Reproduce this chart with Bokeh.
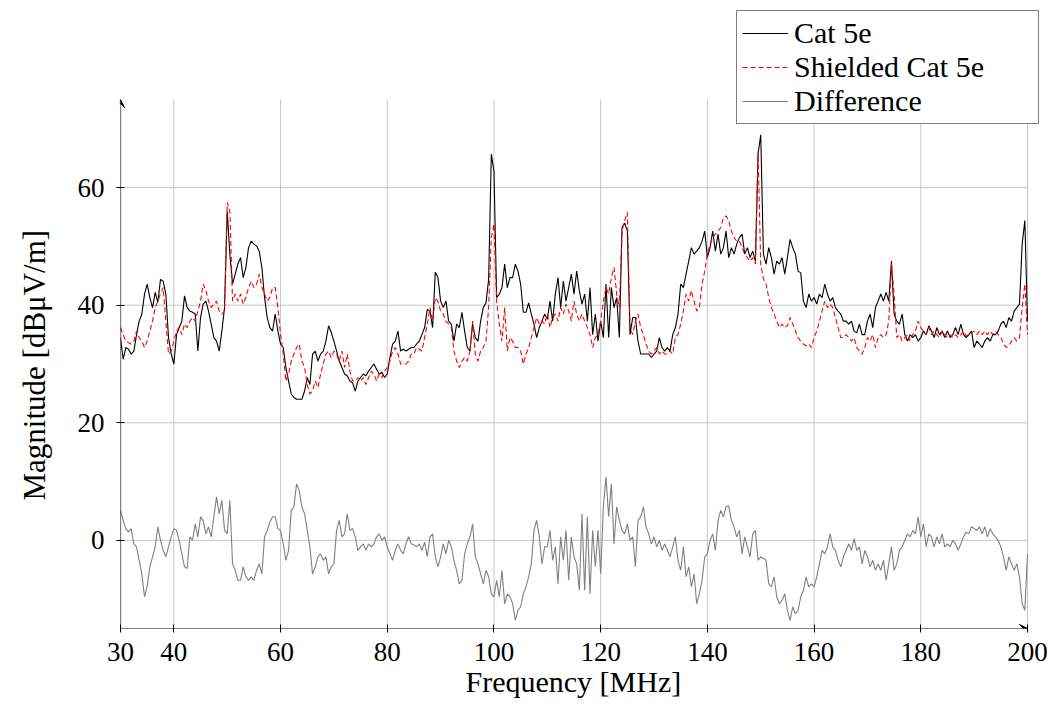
import numpy as np
from bokeh.plotting import figure
from bokeh.models import (Range1d, FixedTicker, Legend, LegendItem, Arrow,
                          VeeHead, ColumnDataSource, Title)
from bokeh.embed import file_html
from bokeh.resources import INLINE

# Measured field strength, 30-200 MHz in 0.5 MHz steps
freq = np.arange(30.0, 200.001, 0.5)

cat5e = [
    34.5, 30.8, 32.8, 32.5, 31.7, 32.2, 35.0, 37.3, 38.5, 41.9, 43.6, 41.3, 39.6, 42.2, 40.5, 44.4, 44.1, 41.9, 34.5, 31.7,
    30.0, 35.0, 36.2, 37.3, 41.6, 39.6, 39.0, 38.8, 38.5, 32.2, 37.9, 40.2, 40.7, 39.0, 36.8, 34.5, 33.9, 32.2, 35.6, 39.6,
    56.0, 48.7, 43.6, 45.3, 47.0, 48.1, 44.7, 46.4, 49.8, 50.9, 50.4, 50.1, 49.2, 46.4, 41.3, 37.9, 36.2, 35.6, 38.5, 35.6,
    33.4, 32.8, 29.4, 27.1, 24.9, 24.3, 24.0, 24.0, 24.0, 25.4, 27.7, 26.5, 31.7, 32.2, 30.5, 31.7, 32.2, 33.9, 36.5, 35.4,
    33.9, 32.2, 30.5, 29.4, 28.3, 28.0, 27.1, 26.8, 25.4, 27.1, 27.7, 28.3, 28.0, 28.8, 29.4, 30.0, 29.1, 28.3, 28.6, 27.7,
    28.3, 31.1, 33.4, 33.9, 35.6, 32.2, 32.5, 32.2, 32.5, 32.8, 32.8, 33.4, 33.9, 35.0, 36.2, 39.3, 39.0, 36.2, 45.6, 44.7,
    40.7, 39.6, 40.7, 37.3, 36.8, 33.9, 36.8, 36.2, 38.8, 35.6, 32.8, 32.2, 36.8, 34.5, 33.9, 37.3, 39.6, 40.4, 44.4, 65.7,
    62.8, 41.3, 41.9, 43.0, 47.0, 43.0, 44.7, 44.7, 47.0, 45.8, 43.6, 38.8, 38.8, 40.4, 38.5, 36.8, 34.5, 36.2, 37.3, 38.5,
    37.6, 40.7, 37.3, 41.9, 44.7, 39.6, 44.1, 40.7, 43.0, 45.3, 41.9, 45.8, 42.5, 40.2, 41.9, 37.3, 43.0, 35.0, 38.5, 33.9,
    37.3, 34.5, 43.6, 34.5, 43.0, 39.6, 41.3, 34.5, 53.2, 54.0, 52.6, 35.0, 37.9, 37.9, 33.9, 31.7, 31.7, 31.7, 31.7, 31.1,
    31.7, 32.2, 34.5, 32.8, 32.2, 32.8, 32.2, 35.0, 36.2, 38.5, 43.6, 43.0, 45.3, 47.5, 49.8, 48.7, 49.2, 49.8, 50.9, 52.6,
    48.1, 49.8, 52.6, 49.2, 52.1, 48.7, 49.8, 52.6, 48.1, 49.8, 48.7, 50.4, 51.5, 52.1, 48.7, 49.8, 48.1, 49.2, 47.5, 65.7,
    69.0, 48.7, 47.0, 49.8, 48.1, 45.3, 47.5, 47.0, 48.1, 45.3, 48.1, 51.2, 49.8, 48.7, 45.8, 45.5, 40.7, 39.6, 41.9, 40.7,
    41.3, 40.2, 41.9, 41.3, 43.6, 41.9, 40.7, 41.3, 39.6, 39.0, 38.5, 37.3, 37.3, 36.8, 37.3, 35.6, 35.3, 36.8, 35.0, 35.0,
    37.3, 38.5, 36.2, 39.6, 40.7, 41.9, 40.7, 42.2, 40.7, 47.5, 38.5, 37.3, 36.8, 38.5, 35.0, 33.9, 35.0, 34.5, 35.0, 33.9,
    34.5, 35.6, 35.0, 36.5, 35.6, 34.5, 36.2, 35.0, 35.6, 34.5, 35.6, 34.5, 35.0, 36.2, 35.0, 36.8, 35.0, 34.5, 35.0, 35.6,
    32.8, 33.9, 33.4, 32.8, 33.9, 34.5, 33.9, 35.0, 35.0, 35.6, 36.8, 37.3, 36.2, 37.9, 37.3, 39.0, 39.6, 40.2, 50.4, 54.4,
    37.3,
]

shielded = [
    36.2, 35.0, 33.9, 33.6, 33.4, 33.9, 35.6, 34.5, 33.9, 32.8, 33.9, 35.6, 37.3, 39.6, 40.7, 41.9, 43.0, 37.3, 31.7, 32.2,
    33.9, 35.6, 36.2, 35.0, 36.8, 36.2, 37.3, 37.9, 37.3, 39.0, 40.7, 43.6, 42.5, 40.7, 39.6, 40.2, 40.7, 39.0, 38.5, 39.0,
    57.5, 56.0, 40.7, 41.9, 40.7, 41.9, 40.2, 41.3, 43.0, 44.1, 43.0, 43.6, 45.3, 43.0, 41.9, 40.7, 41.3, 43.0, 43.0, 39.6,
    35.0, 31.7, 27.1, 28.3, 30.5, 31.7, 32.8, 33.4, 30.5, 29.4, 26.5, 24.9, 25.4, 27.1, 26.0, 28.3, 30.0, 31.7, 32.2, 31.1,
    32.2, 31.7, 30.5, 32.2, 29.4, 31.7, 28.8, 27.1, 27.1, 27.7, 27.1, 27.7, 26.5, 27.7, 28.8, 28.3, 27.1, 28.3, 27.7, 28.8,
    29.4, 30.5, 32.2, 32.8, 31.7, 30.0, 30.0, 30.0, 30.5, 31.7, 31.7, 32.8, 32.5, 32.2, 34.5, 36.8, 39.6, 37.3, 41.3, 40.7,
    39.0, 38.5, 37.3, 36.8, 36.2, 32.2, 30.5, 29.4, 30.5, 31.1, 30.5, 32.2, 37.3, 31.7, 30.5, 32.2, 32.8, 33.9, 39.6, 51.5,
    53.8, 40.7, 36.8, 33.9, 39.6, 32.2, 34.5, 33.9, 32.8, 32.8, 32.2, 30.0, 31.7, 32.8, 34.5, 36.2, 37.9, 36.8, 37.3, 36.8,
    38.5, 36.2, 37.9, 38.5, 37.3, 39.6, 38.5, 40.2, 39.0, 37.3, 40.7, 38.5, 37.3, 38.5, 37.3, 36.2, 35.0, 32.8, 34.5, 35.0,
    37.3, 40.7, 43.0, 41.9, 44.7, 46.4, 41.9, 39.6, 52.6, 54.4, 55.8, 36.2, 35.0, 37.3, 38.5, 36.2, 35.0, 33.4, 32.2, 31.7,
    32.2, 32.8, 31.7, 32.2, 31.7, 31.7, 32.2, 31.7, 34.5, 35.0, 36.8, 39.0, 41.9, 40.7, 42.5, 40.7, 39.0, 39.6, 43.6, 45.8,
    48.7, 50.4, 51.5, 52.1, 52.6, 53.2, 54.9, 55.2, 54.4, 52.6, 51.5, 50.9, 50.9, 49.8, 48.7, 48.1, 47.5, 48.1, 47.0, 66.2,
    47.0, 44.5, 43.6, 41.3, 39.6, 38.5, 37.3, 36.2, 36.8, 36.2, 36.5, 37.9, 36.8, 35.6, 34.5, 33.9, 33.4, 33.1, 33.4, 32.8,
    34.5, 35.6, 37.3, 39.0, 40.7, 39.6, 40.2, 39.6, 37.9, 36.2, 34.5, 34.5, 35.0, 34.5, 33.9, 34.5, 32.8, 32.2, 31.7, 32.8,
    34.5, 33.9, 35.0, 32.8, 34.5, 35.0, 34.5, 35.0, 37.3, 47.0, 41.9, 34.5, 35.0, 33.9, 34.5, 35.0, 33.9, 35.0, 35.6, 37.3,
    36.2, 35.6, 35.0, 36.2, 35.0, 35.6, 35.0, 34.5, 35.6, 35.0, 34.5, 35.0, 34.5, 35.0, 34.5, 35.0, 35.6, 34.8, 35.0, 35.3,
    35.6, 35.0, 35.6, 35.0, 35.6, 35.0, 35.6, 35.0, 35.6, 35.0, 34.5, 33.4, 32.8, 33.1, 33.9, 34.5, 33.9, 34.5, 39.6, 43.6,
    35.0,
]

difference = [
    5.1, 3.4, 2.0, 1.4, 2.0, -0.6, -1.1, -3.4, -5.7, -9.6, -7.9, -4.5, -2.8, -1.1, 2.3, 0.0, -1.7, -2.8, -1.1, 0.6,
    2.0, 1.7, 0.0, -2.3, -4.5, -4.8, 0.6, 0.0, 2.8, 0.6, 4.0, 3.4, 1.1, 2.3, 0.6, 4.0, 7.4, 4.5, 6.8, 1.7,
    1.1, 6.8, -4.0, -5.1, -6.8, -6.8, -4.5, -6.2, -6.8, -6.2, -6.8, -5.1, -4.0, -5.7, 0.6, 1.7, 3.1, 4.0, 4.0, 2.0,
    1.7, -0.6, -3.4, -1.7, 5.1, 5.7, 9.6, 8.5, 5.7, 4.5, 1.7, -1.1, -5.7, -4.5, -2.8, -2.3, -3.4, -2.8, -5.7, -4.5,
    -4.0, 1.7, 3.4, 0.6, 1.1, 4.5, 1.7, 2.0, 0.6, -1.7, -1.1, -0.6, -1.7, -0.6, -1.1, -0.6, 0.6, 1.1, 0.0, 0.6,
    -1.1, -2.3, -3.4, -1.7, -0.6, -1.7, -2.3, -0.6, 0.6, -0.6, -0.8, -1.1, -0.6, -1.7, -0.3, -2.8, 0.6, 1.1, -2.8, -4.5,
    -2.8, -0.6, -2.3, 0.0, -1.1, -3.4, -5.1, -7.4, -6.8, -2.3, -0.6, 0.6, 2.8, -2.8, -4.0, -5.7, -7.4, -5.1, -6.2, -9.1,
    -9.6, -6.8, -9.6, -5.1, -10.8, -9.1, -9.6, -10.8, -13.6, -11.9, -11.3, -9.1, -7.9, -6.2, -4.0, 1.7, 3.4, 0.6, -4.0, -1.1,
    -1.1, 1.7, -3.4, -1.1, -7.4, 0.6, -3.4, 1.7, -6.8, 0.6, -2.8, -4.0, -8.5, 4.5, -8.5, 4.0, -9.1, 1.7, -4.5, 1.7,
    -5.7, 5.7, 10.8, 4.0, 9.6, -0.6, 5.7, 3.4, 1.7, 1.1, 2.8, 0.0, 0.6, -4.5, 3.4, 4.0, 5.7, 2.3, 1.1, -0.6,
    0.6, -1.1, 0.0, -1.7, -0.6, -1.7, -2.8, -1.1, 0.6, -3.4, -5.1, -1.1, -6.2, -4.5, -7.9, -5.7, -10.8, -9.1, -6.8, -2.8,
    -2.3, 0.0, 1.1, -1.7, 3.4, 5.1, 4.0, 5.7, 5.9, 3.4, 2.3, 0.6, 1.7, -2.3, 0.6, -1.1, -2.8, 1.1, 1.7, -3.4,
    -2.8, -3.1, -3.4, -7.4, -7.9, -6.2, -9.6, -10.8, -10.2, -9.1, -11.9, -13.6, -11.3, -12.5, -11.9, -9.6, -8.5, -6.2, -7.9, -7.4,
    -7.9, -6.2, -4.0, -1.7, -2.3, -1.1, 1.1, -1.1, -1.7, -3.4, -4.5, -2.8, -1.7, -0.6, -1.7, 0.3, -1.7, -1.1, -4.0, -1.7,
    -2.8, -4.5, -3.4, -5.1, -4.0, -5.1, -3.4, -6.8, -4.0, -1.1, -5.1, -4.0, -1.7, -1.1, 0.0, 1.1, 0.6, 1.7, 1.1, 4.0,
    0.6, 2.8, -1.1, 1.1, 0.6, -1.1, 0.6, -0.6, 1.1, -1.1, -0.6, -1.1, 0.0, -0.6, -1.7, -0.6, 0.6, 1.4, 1.1, 2.3,
    2.0, 1.7, 2.3, 1.1, 2.3, 0.6, 2.0, 1.1, 0.6, 0.0, -1.1, -2.8, -5.1, -2.8, -4.0, -5.1, -4.0, -6.2, -10.8, -11.9,
    -2.3,
]

x_ticks = [30, 40, 60, 80, 100, 120, 140, 160, 180, 200]
y_ticks = [0, 20, 40, 60]
x_min, x_max = 30, 200
y_min, y_max = -15, 75

FONT = "Liberation Serif"

# The frame is made a little larger than the axis box so that the legend,
# which pokes out above the axis box, is not clipped.
PX_LEFT, PX_AXIS_RIGHT, PX_FRAME_RIGHT = 120, 1027, 1042
PX_AXIS_TOP, PX_FRAME_TOP, PX_BOTTOM = 99, 4, 628
x_per_px = (x_max - x_min) / (PX_AXIS_RIGHT - PX_LEFT)
y_per_px = (y_max - y_min) / (PX_BOTTOM - PX_AXIS_TOP)
x_view_max = x_max + (PX_FRAME_RIGHT - PX_AXIS_RIGHT) * x_per_px
y_view_max = y_max + (PX_AXIS_TOP - PX_FRAME_TOP) * y_per_px

src = ColumnDataSource(dict(f=freq, cat=cat5e, shd=shielded, diff=difference))

p = figure(width=1052, height=707, output_backend="svg", toolbar_location=None,
           x_range=Range1d(x_min, x_view_max), y_range=Range1d(y_min, y_view_max),
           min_border_left=PX_LEFT, min_border_right=1052 - PX_FRAME_RIGHT,
           min_border_top=PX_FRAME_TOP, min_border_bottom=707 - PX_BOTTOM)
p.outline_line_color = None
p.background_fill_color = "white"
p.border_fill_color = "white"
p.xgrid.visible = False
p.ygrid.visible = False

# grid lines restricted to the axis box
grid_color = "#c6c6c6"
vx = [t for t in x_ticks if t > x_min]
p.segment(x0=vx, y0=[y_min] * len(vx), x1=vx, y1=[y_max] * len(vx),
          line_color=grid_color, line_width=1)
p.segment(x0=[x_min] * len(y_ticks), y0=y_ticks, x1=[x_max] * len(y_ticks),
          y1=y_ticks, line_color=grid_color, line_width=1)

# axes
for ax, ticks, bnds in ((p.xaxis, x_ticks, (x_min, x_max)),
                        (p.yaxis, y_ticks, (y_min, y_max))):
    ax.ticker = FixedTicker(ticks=ticks)
    ax.bounds = bnds
    ax.axis_line_color = None
    ax.major_tick_line_color = "black"
    ax.major_tick_in = 4
    ax.major_tick_out = 4
    ax.minor_tick_line_color = None
    ax.major_label_text_font = FONT
    ax.major_label_text_font_size = "27px"
    ax.major_label_text_color = "black"
p.xaxis.major_label_standoff = 10
p.yaxis.major_label_standoff = 12

# axis titles, placed along the axis box rather than the enlarged frame;
# a blank spacer keeps the vertical title clear of the tick labels
p.add_layout(Title(text=" ", text_font_size="1px", standoff=20,
                   text_color="white"), "left")
p.add_layout(Title(text="Magnitude [dBμV/m]", align="left", offset=128,
                   standoff=0, text_font=FONT, text_font_size="31px",
                   text_font_style="normal", text_color="black"), "left")
p.add_layout(Title(text="Frequency [MHz]", align="left", offset=345,
                   vertical_align="top", standoff=2,
                   text_font=FONT, text_font_size="30px",
                   text_font_style="normal", text_color="black"), "below")

# axis lines with arrow tips
p.add_layout(Arrow(x_start=x_min, y_start=y_min, x_end=x_min, y_end=y_max,
                   line_color="black", line_width=1.2,
                   end=VeeHead(size=8, fill_color="black", line_color="black")))
p.add_layout(Arrow(x_start=x_min, y_start=y_min, x_end=x_max, y_end=y_min,
                   line_color="black", line_width=1.2,
                   end=VeeHead(size=8, fill_color="black", line_color="black")))

r_cat = p.line("f", "cat", source=src, line_color="black", line_width=1.1)
r_shd = p.line("f", "shd", source=src, line_color="red", line_width=1.1,
               line_dash="5 3")
r_diff = p.line("f", "diff", source=src, line_color="#808080", line_width=1.1)

legend = Legend(items=[LegendItem(label="Cat 5e", renderers=[r_cat]),
                       LegendItem(label="Shielded Cat 5e", renderers=[r_shd]),
                       LegendItem(label="Difference", renderers=[r_diff])],
                location=(736 - PX_LEFT, PX_BOTTOM - 124))
legend.border_line_color = "black"
legend.border_line_width = 1
legend.background_fill_color = "white"
legend.background_fill_alpha = 1.0
legend.label_text_font = FONT
legend.label_text_font_size = "30px"
legend.label_text_color = "black"
legend.glyph_width = 46
legend.glyph_height = 30
legend.label_height = 30
legend.label_width = 239
legend.label_standoff = 6
legend.spacing = 0
legend.padding = 5
legend.margin = 0
p.add_layout(legend, "center")

open("out.html", "w").write(file_html(p, INLINE))
